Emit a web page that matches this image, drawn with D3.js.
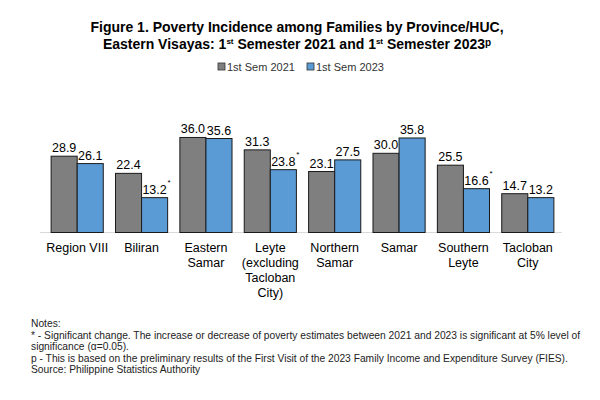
<!DOCTYPE html>
<html>
<head>
<meta charset="utf-8">
<script src="https://cdn.jsdelivr.net/npm/d3@7"></script>
<style>
  body { margin: 0; background: #fff; }
  text { font-family: Arial, "Liberation Sans", sans-serif; fill: #000; }
</style>
</head>
<body>
<div id="chart"></div>
<script>
// Data
const provinces = ["Region VIII", "Biliran", "Eastern Samar", "Leyte (excluding Tacloban City)",
    "Northern Samar", "Samar", "Southern Leyte", "Tacloban City"]
const provinceLines = [
    ["Region VIII"], ["Biliran"], ["Eastern", "Samar"], ["Leyte", "(excluding", "Tacloban", "City)"],
    ["Northern", "Samar"], ["Samar"], ["Southern", "Leyte"], ["Tacloban", "City"]
]
const sem2021 = [28.9, 22.4, 36.0, 31.3, 23.1, 30.0, 25.5, 14.7]
const sem2023 = [26.1, 13.2, 35.6, 23.8, 27.5, 35.8, 16.6, 13.2]
const significant = [false, true, false, true, false, false, true, false]
const seriesNames = ["1st Sem 2021", "1st Sem 2023"]
const seriesColors = ["#7f7f7f", "#5b9bd5"]
const notes = [
    "Notes:",
    "* - Significant change. The increase or decrease of poverty estimates between 2021 and 2023 is significant at 5% level of",
    "significance (\u03b1=0.05).",
    "p - This is based on the preliminary results of the First Visit of the 2023 Family Income and Expenditure Survey (FIES).",
    "Source: Philippine Statistics Authority"
]

const dataset = provinces.map((p, i) => ({
    province: p,
    lines: provinceLines[i],
    values: [sem2021[i], sem2023[i]],
    sig: significant[i]
}))

// Dimensions
const width = 600
const height = 400
const baseline = 232.5

const svg = d3.select("#chart")
    .append("svg")
        .attr("width", width)
        .attr("height", height)

// Scales
const xScale = d3.scaleBand()
    .domain(provinces)
    .range([45, 560])
    .paddingInner(0.19)
    .paddingOuter(0.095)

const xSub = d3.scaleBand()
    .domain([0, 1])
    .range([0, xScale.bandwidth()])

const yScale = d3.scaleLinear()
    .domain([0, 40])
    .range([baseline, baseline - 40 * 2.64])

// Title
const title = svg.append("text")
    .attr("text-anchor", "middle")
    .style("font-size", "14px")
    .style("font-weight", "bold")
title.append("tspan")
    .attr("x", 297).attr("y", 32)
    .text("Figure 1. Poverty Incidence among Families by Province/HUC,")
const t2 = title.append("tspan").attr("x", 297).attr("y", 49)
t2.append("tspan").text("Eastern Visayas: 1")
t2.append("tspan").attr("dy", -5).style("font-size", "8px").text("st")
t2.append("tspan").attr("dy", 5).text(" Semester 2021 and 1")
t2.append("tspan").attr("dy", -5).style("font-size", "8px").text("st")
t2.append("tspan").attr("dy", 5).text(" Semester 2023")
t2.append("tspan").attr("dy", -3).style("font-size", "10px").text("p")

// Legend
const legendX = [218, 307]
const legend = svg.append("g")
    .selectAll("g")
    .data(seriesNames)
    .join("g")
        .attr("transform", (d, i) => `translate(${legendX[i]}, 67)`)
legend.append("rect")
    .attr("x", 0).attr("y", -4)
    .attr("width", 7).attr("height", 7)
    .attr("fill", (d, i) => seriesColors[i])
    .attr("stroke", "#333")
    .attr("stroke-width", 0.8)
legend.append("text")
    .attr("x", 9).attr("y", 4)
    .style("font-size", "11px")
    .style("fill", "#333")
    .text(d => d)

// Baseline
svg.append("line")
    .attr("x1", 40).attr("x2", 562)
    .attr("y1", baseline).attr("y2", baseline)
    .attr("stroke", "#d9d9d9")
    .attr("stroke-width", 1)

// Bars
const groups = svg.append("g")
    .selectAll("g")
    .data(dataset)
    .join("g")
        .attr("transform", d => `translate(${xScale(d.province)}, 0)`)

groups.selectAll("rect")
    .data(d => d.values)
    .join("rect")
        .attr("x", (d, i) => xSub(i))
        .attr("y", d => yScale(d))
        .attr("width", xSub.bandwidth())
        .attr("height", d => baseline - yScale(d))
        .attr("fill", (d, i) => seriesColors[i])
        .attr("stroke", "#1a1a1a")
        .attr("stroke-width", 1)

// Value labels
groups.selectAll("text.value")
    .data(d => d.values.map((v, i) => ({ v, i, sig: d.sig })))
    .join("text")
        .attr("class", "value")
        .attr("x", d => xSub(d.i) + xSub.bandwidth() / 2)
        .attr("y", d => yScale(d.v) - 4)
        .attr("text-anchor", "middle")
        .style("font-size", "12.5px")
        .text(d => d.v.toFixed(1))

groups.filter(d => d.sig)
    .append("text")
        .attr("x", xSub(1) + xSub.bandwidth() / 2 + 13)
        .attr("y", d => yScale(d.values[1]) - 13)
        .style("font-size", "8px")
        .text("*")

// Category labels
groups.append("text")
    .attr("text-anchor", "middle")
    .style("font-size", "12.5px")
    .selectAll("tspan")
    .data(d => d.lines)
    .join("tspan")
        .attr("x", xScale.bandwidth() / 2)
        .attr("y", (d, i) => 252 + i * 15)
        .text(d => d)

// Notes
svg.append("g")
    .selectAll("text")
    .data(notes)
    .join("text")
        .attr("x", 31)
        .attr("y", (d, i) => 327 + i * 11.5)
        .style("font-size", "10.25px")
        .style("fill", "#222")
        .text(d => d)
</script>
</body>
</html>
